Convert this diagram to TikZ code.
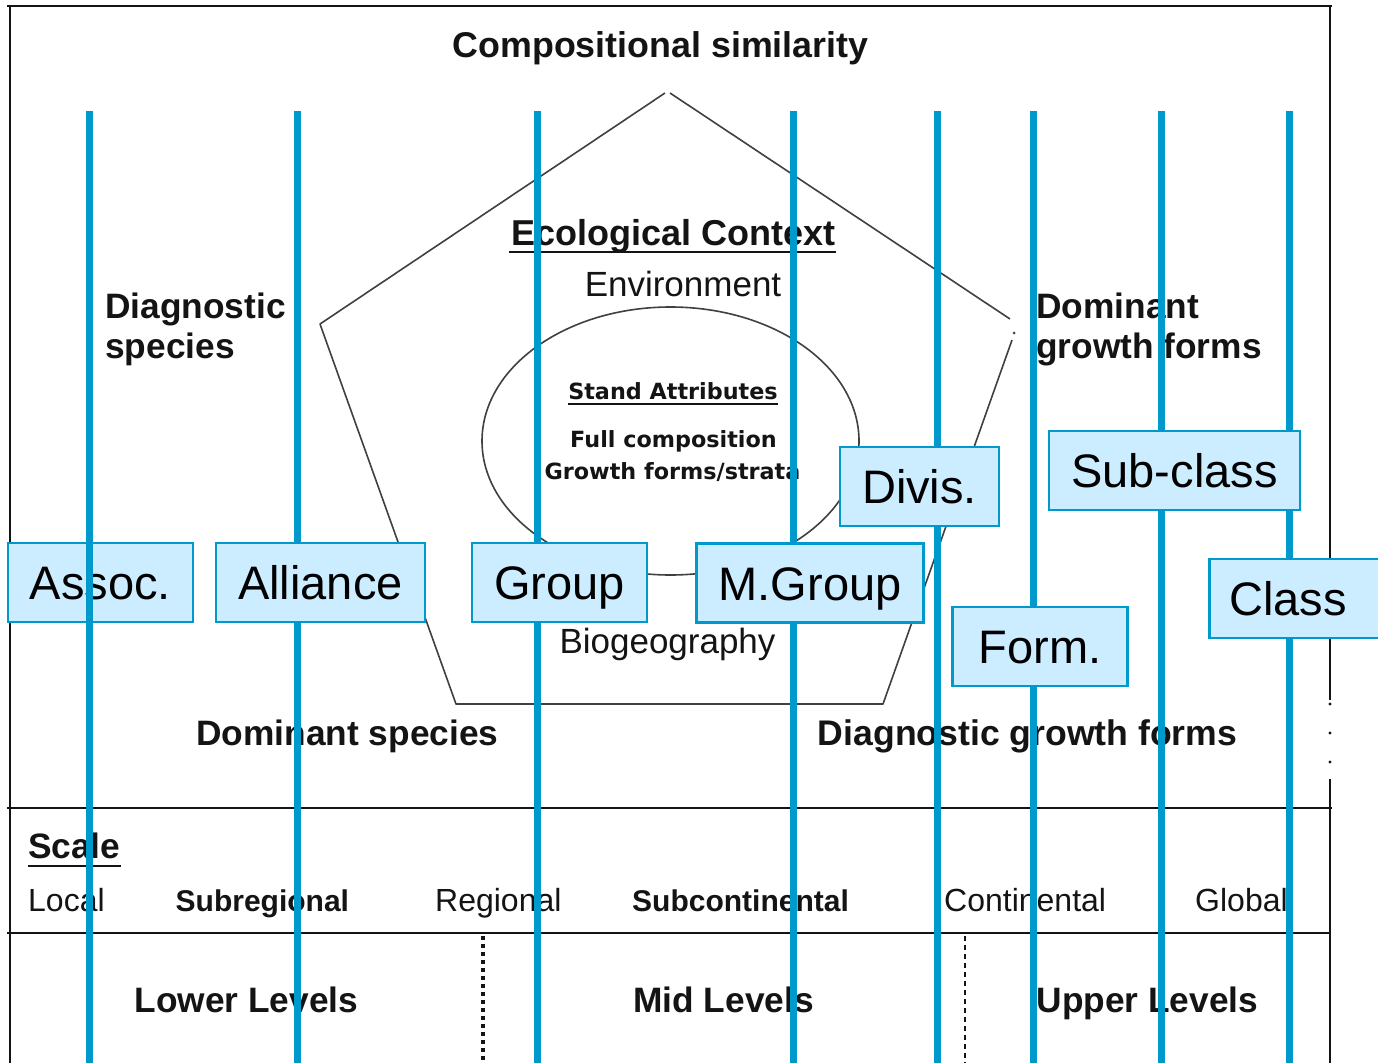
\documentclass[tikz,border=0pt]{standalone}
\usepackage{fontspec}
\setmainfont{Liberation Sans}
\newfontfamily\dejavu{DejaVu Sans}
\definecolor{lineblue}{RGB}{0,153,204}
\definecolor{boxfill}{RGB}{204,236,255}
\definecolor{ink}{RGB}{20,20,20}

\tikzset{
  rankbox/.style={draw=lineblue, line width=2.5pt, fill=boxfill, inner sep=0pt,
    text height=34pt, text depth=0pt, minimum height=79pt,
    font=\fontsize{47}{50}\selectfont},
  levelline/.style={draw=lineblue, line width=7pt},
  frameline/.style={draw=ink, line width=2pt},
  figline/.style={draw=black!75, line width=1.6pt},
  boldtxt/.style={inner sep=0pt, text=ink, font=\bfseries\fontsize{35.3}{40}\selectfont},
  plaintxt/.style={inner sep=0pt, text=ink, font=\fontsize{35}{40}\selectfont},
  scaletxt/.style={inner sep=0pt, anchor=base west, text=ink, font=\fontsize{32}{36}\selectfont},
  scalebold/.style={inner sep=0pt, anchor=base west, text=ink, font=\bfseries\fontsize{30}{36}\selectfont},
  standtxt/.style={inner sep=0pt, anchor=base, text=ink, font=\dejavu\bfseries\fontsize{22.3}{26}\selectfont},
  uline/.style={draw=ink, line width=2.2pt}
}

\begin{document}
\begin{tikzpicture}[x=1pt, y=-1pt]
\useasboundingbox[fill=white] (0,0) rectangle (1378,1063);

% outer frame and table rules
\draw[frameline] (7,6) -- (1332,6);
\draw[frameline] (10,6) -- (10,1063);
\draw[frameline] (1330,6) -- (1330,700);
\draw[frameline] (1330,779) -- (1330,1063);
\foreach \yy in {704,733,762} \fill[ink] (1330,\yy) circle (1.6pt);
\draw[frameline] (7,808) -- (1332,808);
\draw[frameline] (7,933) -- (1330,933);
\draw[draw=ink, line width=3.6pt, dash pattern=on 3.5pt off 4.5pt] (483,936) -- (483,1063);
\draw[draw=ink, line width=1.6pt, dash pattern=on 5pt off 4pt] (965,936) -- (965,1063);

% pentagon of criteria and the stand-attribute ellipse
\draw[figline, line join=round] (670,93) -- (1010,319);
\fill[black!75] (1014,333) circle (1.5pt);
\draw[figline, line join=round] (1012,340) -- (883,704) -- (456,704) -- (320,324) -- (665,93);
\draw[figline] (670.5,441) ellipse [x radius=188.5pt, y radius=134pt];

% titles and criteria
\node[boldtxt, anchor=base, font=\bfseries\fontsize{35.8}{40}\selectfont] (comp) at (660.5,57) {Compositional similarity};
\node[boldtxt, anchor=base, font=\bfseries\fontsize{36}{40}\selectfont] (eco) at (673.5,245) {Ecological Context};
\draw[uline] (509,252) -- (836,252);
\node[plaintxt, anchor=base] (env) at (683,296) {Environment};
\node[standtxt] (stand) at (673,399) {Stand Attributes};
\draw[uline, line width=1.8pt] (568,404) -- (778,404);
\node[standtxt] (full) at (673.5,447) {Full composition};
\node[standtxt] (grow) at (672.5,479) {Growth forms/strata};
\node[plaintxt, anchor=base] (bio) at (667.5,653) {Biogeography};
\node[boldtxt, anchor=base west] (diag1) at (105,318) {Diagnostic};
\node[boldtxt, anchor=base west] (diag2) at (105,358) {species};
\node[boldtxt, anchor=base west] (dom1) at (1036,318) {Dominant};
\node[boldtxt, anchor=base west] (dom2) at (1036,358) {growth forms};
\node[boldtxt, anchor=base] (domsp) at (347.5,745) {Dominant species};
\node[boldtxt, anchor=base, font=\bfseries\fontsize{35.6}{40}\selectfont] (diaggf) at (1027.5,745) {Diagnostic growth forms};

% scale row
\node[boldtxt, anchor=base west] (scale) at (28,858) {Scale};
\draw[uline] (28,866) -- (121,866);
\node[scaletxt] (local) at (28,911) {Local};
\node[scalebold] (subreg) at (175.5,911) {Subregional};
\node[scaletxt] (reg) at (435,911) {Regional};
\node[scalebold] (subcont) at (632,911) {Subcontinental};
\node[scaletxt] (cont) at (944,911) {Continental};
\node[scaletxt] (glob) at (1195,911) {Global};

% level groups
\node[boldtxt, anchor=base] (lower) at (246.5,1012) {Lower Levels};
\node[boldtxt, anchor=base] (mid) at (723.5,1012) {Mid Levels};
\node[boldtxt, anchor=base] (upper) at (1147.5,1012) {Upper Levels};

% hierarchy levels: the association box lies beneath its line
\node[rankbox, minimum width=185pt] (assoc) at (100.5,582.5) {Assoc.};
\foreach \xx in {89,297,537,793,937,1033,1161,1289}
  \draw[levelline] (\xx,111) -- (\xx,1063);
\node[rankbox, minimum width=209pt] (alliance) at (320.5,582.5) {Alliance};
\node[rankbox, minimum width=175pt] (group) at (559.5,582.5) {Group};
\node[rankbox, minimum width=227pt] (mgroup) at (810,583) {M.Group};
\node[rankbox, minimum width=159pt] (divis) at (919.5,486.5) {Divis.};
\node[rankbox, minimum width=251pt] (subclass) at (1174.5,470.5) {Sub-class};
\node[rankbox, minimum width=175pt] (form) at (1040,646.5) {Form.};
\node[rankbox, anchor=west, text width=160pt, inner xsep=20pt, align=left] (class) at (1208,598.5) {Class};
\end{tikzpicture}
\end{document}
